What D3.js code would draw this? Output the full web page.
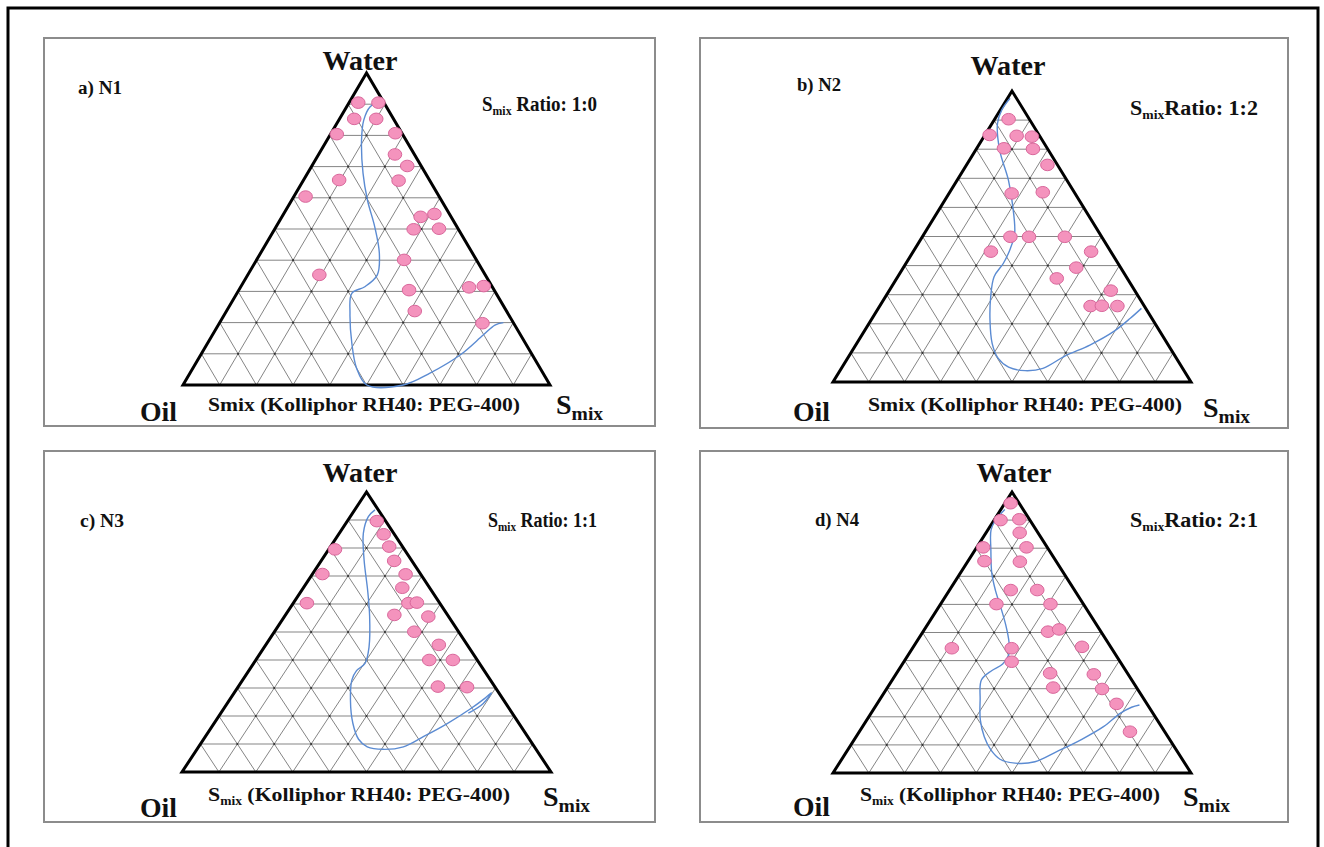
<!DOCTYPE html>
<html>
<head>
<meta charset="utf-8">
<script src="https://cdn.jsdelivr.net/npm/d3@7"></script>
<style>
  body { margin: 0; background: #fff; }
  svg { display: block; }
</style>
</head>
<body>
<div id="chart"></div>
<script>
// compositions: [water, oil, smix] in %
const pointsN1 = [
  [90.5, 7.0, 2.5], [90.5, 1.5, 8.0], [85.3, 10.7, 4.0], [85.3, 4.7, 10.0],
  [80.4, 17.9, 1.7], [80.7, 1.8, 17.5], [73.9, 5.3, 20.8], [70.2, 3.8, 26.0],
  [65.5, 8.5, 26.0], [65.7, 24.6, 9.7], [60.4, 36.4, 3.2], [53.9, 8.3, 37.8],
  [54.8, 4.1, 41.1], [49.9, 12.2, 37.9], [50.1, 5.2, 44.7], [40.1, 19.7, 40.2],
  [35.3, 45.2, 19.5], [30.4, 23.2, 46.4], [31.3, 6.4, 62.3], [31.7, 2.2, 66.1],
  [23.7, 25.0, 51.3], [19.8, 8.5, 71.7]
];
const curveN1 = [
  [91.0, 0.5, 8.5], [89.2, 4.4, 6.4], [84.9, 8.3, 6.8], [78.5, 12.1, 9.4],
  [67.9, 17.0, 15.1], [59.3, 20.1, 20.6], [50.7, 22.4, 26.9], [42.2, 25.4, 32.4],
  [35.3, 29.4, 35.3], [31.5, 34.7, 33.8], [29.4, 39.3, 31.3], [23.0, 43.0, 34.0],
  [13.4, 47.3, 39.3], [5.4, 50.0, 44.6], [0, 49.9, 50.1], [0, 40.0, 60.0],
  [3.8, 30.8, 65.4], [9.6, 19.7, 70.7], [16.0, 10.2, 73.8], [19.2, 5.4, 75.4],
  [20.0, 2.7, 77.3]
];

const pointsN2 = [
  [90.3, 5.8, 3.9], [84.9, 13.8, 1.3], [84.6, 6.4, 9.0], [84.3, 2.3, 13.4],
  [80.3, 12.1, 7.6], [80.1, 4.1, 15.8], [74.6, 2.8, 22.6], [64.8, 17.7, 17.5],
  [65.2, 8.8, 26.0], [49.9, 25.5, 24.6], [49.9, 20.3, 29.8], [49.9, 10.3, 39.8],
  [44.8, 33.5, 21.7], [44.8, 5.5, 49.7], [39.3, 12.4, 48.3], [35.6, 19.7, 44.7],
  [31.4, 6.7, 61.9], [26.1, 15.0, 58.9], [26.2, 11.8, 62.0], [26.1, 7.5, 66.4]
];
const curveN2 = [
  [97.5, 1.8, 0.7], [93.5, 6.1, 0.4], [88.9, 9.6, 1.5], [79.7, 13.6, 6.7],
  [69.4, 16.3, 14.3], [61.4, 19.2, 19.4], [51.1, 23.7, 25.2], [45.9, 27.5, 26.6],
  [40.8, 32.0, 27.2], [36.2, 36.9, 26.9], [29.3, 41.3, 29.4], [21.3, 45.5, 33.2],
  [13.3, 48.9, 37.8], [8.1, 49.8, 42.1], [5.1, 48.4, 46.5], [3.9, 44.4, 51.7],
  [4.7, 39.0, 56.3], [8.9, 30.8, 60.3], [12.7, 21.9, 65.4], [17.3, 13.0, 69.7],
  [21.9, 6.0, 72.1], [25.3, 1.2, 73.5]
];

const pointsN3 = [
  [89.6, 2.4, 8.0], [84.9, 2.9, 12.2], [80.5, 3.6, 15.9], [79.5, 18.8, 1.7],
  [75.4, 4.8, 19.8], [70.7, 26.6, 2.7], [70.6, 4.1, 25.3], [65.8, 7.4, 26.8],
  [60.3, 36.0, 3.7], [60.3, 8.5, 31.2], [60.5, 6.1, 33.4], [56.1, 14.4, 29.5],
  [55.5, 5.5, 39.0], [50.1, 12.0, 37.9], [45.4, 7.7, 46.9], [40.0, 13.0, 47.0],
  [40.0, 6.6, 53.4], [30.5, 15.4, 54.1], [30.3, 7.6, 62.1]
];
const curveN3 = [
  [93.6, 0.9, 5.5], [91.2, 3.9, 4.9], [85.3, 8.2, 6.5], [75.7, 12.8, 11.5],
  [65.0, 17.2, 17.8], [55.5, 21.4, 23.1], [44.8, 26.9, 28.3], [38.8, 31.0, 30.2],
  [36.2, 34.6, 29.2], [32.9, 37.5, 29.6], [25.7, 41.5, 32.8], [17.4, 45.0, 37.6],
  [11.7, 46.3, 42.0], [9.0, 45.3, 45.7], [8.1, 41.4, 50.5], [9.0, 35.5, 55.5],
  [12.6, 28.3, 59.1], [17.1, 19.8, 63.1], [22.4, 10.8, 66.8], [26.3, 4.8, 68.9],
  [28.3, 2.0, 69.7], [24.5, 6.1, 69.4], [21.0, 11.9, 67.1]
];

const pointsN4 = [
  [96.0, 2.4, 1.6], [90.0, 8.2, 1.8], [90.3, 2.8, 6.9], [85.5, 5.1, 9.4],
  [80.3, 17.9, 1.8], [80.3, 5.8, 13.9], [75.4, 20.0, 4.6], [75.2, 10.2, 14.6],
  [65.1, 17.8, 17.1], [65.1, 10.4, 24.5], [60.1, 24.3, 15.6], [60.1, 9.2, 30.7],
  [50.3, 14.8, 34.9], [51.1, 11.3, 37.6], [44.4, 44.6, 11.0], [44.4, 27.9, 27.7],
  [44.9, 8.0, 47.1], [39.6, 30.3, 30.1], [35.5, 21.6, 42.9], [35.1, 9.6, 55.3],
  [30.4, 23.3, 46.3], [29.9, 9.9, 60.2], [24.6, 8.5, 66.9], [14.7, 9.7, 75.6]
];
const curveN4 = [
  [93.8, 5.1, 1.1], [90.0, 9.6, 0.4], [86.5, 12.6, 0.9], [79.4, 16.2, 4.4],
  [71.1, 20.1, 8.8], [65.1, 22.1, 12.8], [59.2, 23.6, 17.2], [52.7, 25.4, 21.9],
  [46.7, 27.5, 25.8], [42.3, 29.7, 28.0], [38.8, 33.2, 28.0], [36.4, 37.5, 26.1],
  [33.1, 42.0, 24.9], [26.0, 45.9, 28.1], [18.9, 49.4, 31.7], [12.9, 51.3, 35.8],
  [8.2, 51.8, 40.0], [4.9, 50.9, 44.2], [3.5, 47.4, 49.1], [4.0, 41.6, 54.4],
  [7.6, 33.7, 58.7], [12.0, 24.5, 63.5], [16.5, 16.2, 67.3], [21.2, 9.2, 69.6],
  [23.4, 4.9, 71.7], [24.2, 2.3, 73.5]
];

const panelTags = ["a) N1", "b) N2", "c) N3", "d) N4"];
const smixRatios = ["1:0", "1:2", "1:1", "2:1"];
const gridSteps = d3.range(10, 100, 10);

const FONT = '"Liberation Serif", "Times New Roman", serif';

// layout of each panel (box, triangle and where its texts sit)
const layout = [
  { box: [44, 38, 655, 426], tri: { left: 183, right: 550, base: 385, apex: 73 },
    tag: [78, 94], water: [360, 70], ratio: [482, 111, 115], ratioSpace: true,
    axis: [208, 411, 312], subAxis: false, oil: [140, 421], smix: [556, 414] },
  { box: [700, 38, 1288, 428], tri: { left: 833, right: 1191, base: 382, apex: 91 },
    tag: [797, 91], water: [1008, 75], ratio: [1130, 115, 128], ratioSpace: false,
    axis: [868, 411, 314], subAxis: false, oil: [793, 421], smix: [1203, 417] },
  { box: [44, 451, 655, 822], tri: { left: 182, right: 551, base: 772, apex: 492 },
    tag: [80, 527], water: [360, 482], ratio: [488, 527, 109], ratioSpace: true,
    axis: [208, 801, 302], subAxis: true, oil: [140, 817], smix: [543, 806] },
  { box: [700, 451, 1288, 822], tri: { left: 833, right: 1191, base: 773, apex: 492 },
    tag: [815, 526], water: [1014, 482], ratio: [1130, 527, 128], ratioSpace: false,
    axis: [860, 801, 300], subAxis: true, oil: [793, 816], smix: [1183, 806] }
];
const series = [
  [pointsN1, curveN1], [pointsN2, curveN2], [pointsN3, curveN3], [pointsN4, curveN4]
];

const svg = d3.select("#chart").append("svg")
    .attr("width", 1324)
    .attr("height", 847)
    .style("font-family", FONT)
    .style("font-weight", "bold");

svg.append("rect")
    .attr("x", 8).attr("y", 8)
    .attr("width", 1310).attr("height", 860)
    .attr("fill", "none")
    .attr("stroke", "#000")
    .attr("stroke-width", 3);

// text with optional subscripts; parts = [[string, isSub], ...]
function addText(g, x, y, size, parts, opts = {}) {
    const t = g.append("text")
        .attr("x", x).attr("y", y)
        .attr("font-size", size)
        .attr("text-anchor", opts.anchor || "start")
        .attr("fill", "#111");
    if (opts.len) t.attr("textLength", opts.len).attr("lengthAdjust", "spacingAndGlyphs");
    const drop = opts.drop || size * 0.22;
    let low = false;
    parts.forEach(([s, sub]) => {
        const ts = t.append("tspan").text(s);
        if (sub) {
            ts.attr("font-size", size * (opts.subScale || 0.62)).attr("dy", drop);
            low = true;
        } else if (low) {
            ts.attr("dy", -drop);
            low = false;
        }
    });
    return t;
}

layout.forEach((L, i) => {
    const [points, curve] = series[i];
    const g = svg.append("g");

    g.append("rect")
        .attr("x", L.box[0]).attr("y", L.box[1])
        .attr("width", L.box[2] - L.box[0]).attr("height", L.box[3] - L.box[1])
        .attr("fill", "#fff")
        .attr("stroke", "#8c8c8c")
        .attr("stroke-width", 2);

    // ternary projection: water -> height, smix + water/2 -> across
    const x = d3.scaleLinear().domain([0, 100]).range([L.tri.left, L.tri.right]);
    const y = d3.scaleLinear().domain([0, 100]).range([L.tri.base, L.tri.apex]);
    const proj = d => [x(d[2] + d[0] / 2), y(d[0])];

    // grid: constant water, constant smix, constant oil
    const lines = [];
    gridSteps.forEach(v => {
        lines.push([[v, 100 - v, 0], [v, 0, 100 - v]]);
        lines.push([[0, 100 - v, v], [100 - v, 0, v]]);
        lines.push([[0, v, 100 - v], [100 - v, v, 0]]);
    });
    g.append("g")
        .attr("stroke", "#858585")
        .attr("stroke-width", 1)
        .selectAll("line")
        .data(lines)
        .join("line")
        .attr("x1", d => proj(d[0])[0]).attr("y1", d => proj(d[0])[1])
        .attr("x2", d => proj(d[1])[0]).attr("y2", d => proj(d[1])[1]);

    const nodes = [];
    gridSteps.forEach(w => gridSteps.forEach(s => { if (w + s < 100) nodes.push([w, 100 - w - s, s]); }));
    g.append("g")
        .attr("fill", "#333")
        .selectAll("circle")
        .data(nodes)
        .join("circle")
        .attr("cx", d => proj(d)[0]).attr("cy", d => proj(d)[1])
        .attr("r", 1.1);

    g.append("path")
        .datum([[100, 0, 0], [0, 100, 0], [0, 0, 100]])
        .attr("d", d => d3.line()(d.map(proj)) + "Z")
        .attr("fill", "none")
        .attr("stroke", "#000")
        .attr("stroke-width", 3)
        .attr("stroke-linejoin", "miter");

    g.append("path")
        .datum(curve)
        .attr("d", d => d3.line().curve(d3.curveCatmullRom.alpha(0.5))(d.map(proj)))
        .attr("fill", "none")
        .attr("stroke", "#5b8bd2")
        .attr("stroke-width", 1.4);

    g.append("g")
        .attr("fill", "#f493bd")
        .attr("stroke", "#d9679b")
        .attr("stroke-width", 1)
        .selectAll("ellipse")
        .data(points)
        .join("ellipse")
        .attr("cx", d => proj(d)[0]).attr("cy", d => proj(d)[1])
        .attr("rx", 6.8).attr("ry", 5.8);

    // texts
    addText(g, L.tag[0], L.tag[1], 18, [[panelTags[i]]], { len: 44 });
    addText(g, L.water[0], L.water[1], 27, [["Water"]], { anchor: "middle", len: 75 });
    addText(g, L.ratio[0], L.ratio[1], 20,
        [["S"], ["mix", true], [(L.ratioSpace ? " " : "") + "Ratio: " + smixRatios[i]]],
        { len: L.ratio[2], subScale: 0.62, drop: 4 });
    const axisParts = L.subAxis
        ? [["S"], ["mix", true], [" (Kolliphor RH40: PEG-400)"]]
        : [["Smix (Kolliphor RH40: PEG-400)"]];
    addText(g, L.axis[0], L.axis[1], 19, axisParts, { len: L.axis[2], subScale: 0.62, drop: 4 });
    addText(g, L.oil[0], L.oil[1], 28, [["Oil"]], { len: 37 });
    addText(g, L.smix[0], L.smix[1], 28, [["S"], ["mix", true]], { subScale: 0.7, drop: 6 });
});
</script>
</body>
</html>
